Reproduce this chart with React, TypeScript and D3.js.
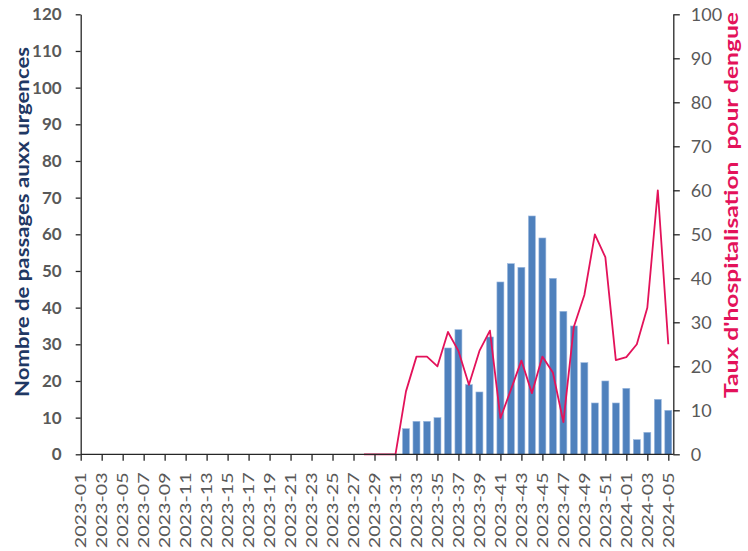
import { useEffect, useRef } from 'react';
import * as d3 from 'd3';

// Semaines ISO 2023-01 .. 2024-05
const WEEKS: string[] = [
  ...d3.range(1, 53).map((w) => `2023-${String(w).padStart(2, '0')}`),
  ...d3.range(1, 6).map((w) => `2024-${String(w).padStart(2, '0')}`),
];

// Nombre de passages aux urgences (axe gauche)
const PASSAGES: number[] = [
  0, 0, 0, 0, 0, 0, 0, 0, 0, 0, 0, 0, 0, 0, 0, 0, 0, 0, 0, 0,
  0, 0, 0, 0, 0, 0, 0, 0, 0, 0, 0,
  7, 9, 9, 10, 29, 34, 19, 17, 32, 47, 52, 51, 65, 59, 48, 39, 35, 25, 14, 20, 14,
  18, 4, 6, 15, 12,
];

// Taux d'hospitalisation pour dengue (axe droit, %)
const TAUX: (number | null)[] = [
  null, null, null, null, null, null, null, null, null, null, null, null, null, null,
  null, null, null, null, null, null, null, null, null, null, null, null, null,
  0, 0, 0, 0,
  14.3, 22.2, 22.2, 20, 27.8, 23.5, 15.8, 23.5, 28.1, 8.2, 14.7, 21.3, 13.9, 22.2,
  18.6, 7.3, 29, 36.2, 50, 44.8, 21.4, 22.1, 25, 33.3, 60, 25,
];

const LEFT_TICKS = d3.range(0, 121, 10);
const RIGHT_TICKS = d3.range(0, 101, 10);
const LABEL_WEEKS = WEEKS.filter((_, i) => i % 2 === 0);

const BAR_COLOR = '#4f81bd';
const LINE_COLOR = '#e3125a';
const AXIS_COLOR = '#262626';
const TEXT_GREY = '#595959';
const FONT = 'Lato, "Open Sans", sans-serif';

const W = 748;
const H = 551;

const ComboChart = () => {
  const svgRef = useRef<SVGSVGElement>(null);

  useEffect(() => {
    if (!svgRef.current) return;
    const svg = d3.select(svgRef.current);
    svg.selectAll('*').remove();

    const left = 80.7;
    const right = 673.3;
    const top = 14.3;
    const bottom = 454.3;

    const x = d3.scalePoint<string>().domain(WEEKS).range([80.7, 668.3]);
    const yL = d3.scaleLinear().domain([0, 120]).range([bottom, top]);
    const yR = d3.scaleLinear().domain([0, 100]).range([bottom, top]);
    const barW = 7;

    // barres
    svg
      .append('g')
      .selectAll('rect')
      .data(WEEKS.map((w, i) => ({ w, v: PASSAGES[i] })).filter((d) => d.v > 0))
      .join('rect')
      .attr('x', (d) => (x(d.w) as number) - barW / 2)
      .attr('y', (d) => yL(d.v))
      .attr('width', barW)
      .attr('height', (d) => yL(0) - yL(d.v))
      .attr('fill', BAR_COLOR)
      .attr('stroke', '#9fbbe0')
      .attr('stroke-width', 0.6);

    // ligne taux
    const line = d3
      .line<{ w: string; v: number | null }>()
      .defined((d) => d.v !== null)
      .x((d) => x(d.w) as number)
      .y((d) => yR(d.v as number));
    svg
      .append('path')
      .datum(WEEKS.map((w, i) => ({ w, v: TAUX[i] })))
      .attr('d', line)
      .attr('fill', 'none')
      .attr('stroke', LINE_COLOR)
      .attr('stroke-width', 1.8)
      .attr('stroke-linejoin', 'round');

    // axe gauche
    const gL = svg
      .append('g')
      .attr('transform', `translate(${left},0)`)
      .call(d3.axisLeft(yL).tickValues(LEFT_TICKS).tickSize(5).tickSizeOuter(0).tickPadding(14));
    gL.selectAll('path, line').attr('stroke', AXIS_COLOR).attr('stroke-width', 1.3);
    gL.selectAll('text')
      .attr('fill', TEXT_GREY)
      .style('font-family', FONT)
      .style('font-size', '17px')
      .style('font-weight', 700);

    // axe droit
    const gR = svg
      .append('g')
      .attr('transform', `translate(${right},0)`)
      .call(d3.axisRight(yR).tickValues(RIGHT_TICKS).tickSize(6.5).tickSizeOuter(0).tickPadding(11));
    gR.selectAll('path, line').attr('stroke', AXIS_COLOR).attr('stroke-width', 1.3);
    gR.selectAll('text')
      .attr('fill', TEXT_GREY)
      .style('font-family', FONT)
      .style('font-size', '18px');

    // axe bas
    svg
      .append('line')
      .attr('x1', left)
      .attr('x2', right)
      .attr('y1', bottom)
      .attr('y2', bottom)
      .attr('stroke', AXIS_COLOR)
      .attr('stroke-width', 1.3);
    const gB = svg
      .append('g')
      .attr('transform', `translate(0,${bottom})`)
      .call(d3.axisBottom(x).tickValues(LABEL_WEEKS).tickSize(6.5).tickSizeOuter(0));
    gB.select('.domain').remove();
    gB.selectAll('line').attr('stroke', AXIS_COLOR).attr('stroke-width', 1.3);
    gB.selectAll('text')
      .attr('fill', TEXT_GREY)
      .attr('transform', 'translate(0,18) rotate(-90)')
      .attr('x', 0)
      .attr('y', 0)
      .attr('dy', '0.35em')
      .attr('text-anchor', 'end')
      .attr('textLength', 76)
      .attr('lengthAdjust', 'spacingAndGlyphs')
      .style('font-family', FONT)
      .style('font-size', '15px');

    // titres
    svg
      .append('text')
      .attr('transform', 'translate(22.7,222) rotate(-90)')
      .attr('text-anchor', 'middle')
      .attr('dy', '0.35em')
      .attr('textLength', 350)
      .attr('lengthAdjust', 'spacingAndGlyphs')
      .attr('fill', '#1f3864')
      .style('font-family', FONT)
      .style('font-size', '19px')
      .style('font-weight', 700)
      .text('Nombre de passages auxx urgences');

    svg
      .append('text')
      .attr('transform', 'translate(731.7,205) rotate(-90)')
      .attr('text-anchor', 'middle')
      .attr('dy', '0.35em')
      .attr('textLength', 386)
      .attr('lengthAdjust', 'spacingAndGlyphs')
      .attr('fill', LINE_COLOR)
      .attr('xml:space', 'preserve')
      .style('white-space', 'pre')
      .style('font-family', FONT)
      .style('font-size', '19px')
      .style('font-weight', 700)
      .text("Taux d'hospitalisation  pour dengue");
  }, []);

  return (
    <svg
      ref={svgRef}
      width={W}
      height={H}
      viewBox={`0 0 ${W} ${H}`}
      style={{ position: 'absolute', left: 0, top: 0, background: '#fff' }}
    />
  );
};

export default function App() {
  return <ComboChart />;
}
